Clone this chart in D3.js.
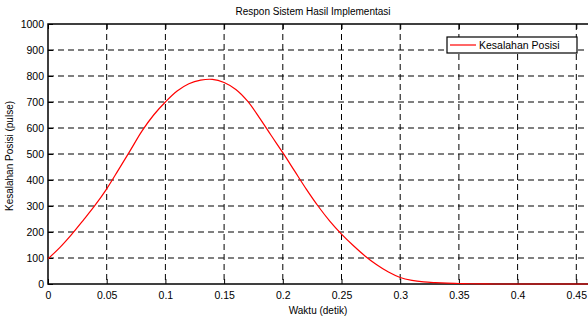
<!DOCTYPE html>
<html>
<head>
<meta charset="utf-8">
<script src="https://cdn.jsdelivr.net/npm/d3@7"></script>
<style>
  body { margin: 0; background: #fff; }
  svg { display: block; font-family: "Liberation Sans", Arial, sans-serif; }
  .grid line { stroke: #000; stroke-dasharray: 6,4; stroke-width: 1; }
</style>
</head>
<body>
<script>
// waktu (detik) vs kesalahan posisi (pulse)
var waktu = [0, 0.01, 0.02, 0.03, 0.04, 0.05, 0.06, 0.07, 0.08, 0.09, 0.10,
  0.11, 0.12, 0.13, 0.14, 0.15, 0.16, 0.17, 0.18, 0.19, 0.20,
  0.21, 0.22, 0.23, 0.24, 0.25, 0.26, 0.27, 0.28, 0.29, 0.30,
  0.31, 0.32, 0.33, 0.34, 0.35, 0.36, 0.38, 0.40, 0.45, 0.47];
var kesalahan = [97, 140, 190, 245, 302, 366, 439, 513, 588, 650, 700,
  742, 770, 784, 787, 775, 748, 703, 640, 572, 505,
  435, 365, 300, 242, 192, 148, 108, 74, 46, 25,
  14, 8, 5, 3, 2, 1, 0, 0, 0, 0];
var xTicks = [0, 0.05, 0.1, 0.15, 0.2, 0.25, 0.3, 0.35, 0.4, 0.45];
var yTicks = [0, 100, 200, 300, 400, 500, 600, 700, 800, 900, 1000];
var seriesName = 'Kesalahan Posisi';

var W = 588, H = 322;
var margin = {top: 24, left: 48, bottom: 38};
var plotH = H - margin.top - margin.bottom;

var x = d3.scaleLinear().domain([0, 0.05]).range([margin.left, margin.left + 58.7]);
var y = d3.scaleLinear().domain([0, 1000]).range([margin.top + plotH, margin.top]);
var xMax = x.invert(W + 20);

var svg = d3.select('body').append('svg')
  .attr('width', W).attr('height', H);

svg.append('clipPath').attr('id', 'clip')
  .append('rect')
  .attr('x', margin.left).attr('y', margin.top)
  .attr('width', W - margin.left).attr('height', plotH + 2);

// grid
var grid = svg.append('g').attr('class', 'grid');
grid.selectAll('.vg')
  .data(xTicks.slice(1))
  .enter().append('line')
  .attr('x1', function (d) { return x(d); })
  .attr('x2', function (d) { return x(d); })
  .attr('y1', y(1000)).attr('y2', y(0));
grid.selectAll('.hg')
  .data(yTicks.slice(1, -1))
  .enter().append('line')
  .attr('x1', x(0)).attr('x2', W)
  .attr('y1', function (d) { return y(d); })
  .attr('y2', function (d) { return y(d); });

// axes (ticks pointing inwards like matlab)
var xAxis = d3.axisBottom(x).tickValues(xTicks).tickSize(-5).tickPadding(8)
  .tickFormat(function (d) { return d3.format('~g')(d); });
var gx = svg.append('g')
  .attr('transform', 'translate(0,' + y(0) + ')')
  .call(xAxis);
gx.select('.domain').remove();

var xTop = d3.axisTop(x).tickValues(xTicks).tickSize(-5).tickFormat('');
var gxt = svg.append('g')
  .attr('transform', 'translate(0,' + y(1000) + ')')
  .call(xTop);
gxt.select('.domain').remove();

var yAxis = d3.axisLeft(y).tickValues(yTicks).tickSize(-5).tickPadding(4)
  .tickFormat(d3.format('d'));
var gy = svg.append('g')
  .attr('transform', 'translate(' + x(0) + ',0)')
  .call(yAxis);
gy.select('.domain').remove();

svg.selectAll('.tick text')
  .attr('fill', '#000')
  .style('font-size', '10.5px');
svg.selectAll('.tick line').attr('stroke', '#000');

// box
svg.append('rect')
  .attr('x', x(0)).attr('y', y(1000))
  .attr('width', x(xMax) - x(0)).attr('height', y(0) - y(1000))
  .attr('fill', 'none').attr('stroke', '#000').attr('stroke-width', 1.5);

// curve
var line = d3.line()
  .x(function (d) { return x(d[0]); })
  .y(function (d) { return y(d[1]); })
  .curve(d3.curveCatmullRom.alpha(0.5));

svg.append('path')
  .datum(d3.zip(waktu, kesalahan))
  .attr('clip-path', 'url(#clip)')
  .attr('fill', 'none')
  .attr('stroke', '#ff0000')
  .attr('stroke-width', 1.2)
  .attr('d', line);

// labels
svg.append('text')
  .attr('x', 313).attr('y', 15)
  .attr('text-anchor', 'middle')
  .style('font-size', '10px')
  .text('Respon Sistem Hasil Implementasi');

svg.append('text')
  .attr('x', 318).attr('y', 314)
  .attr('text-anchor', 'middle')
  .style('font-size', '10px')
  .text('Waktu (detik)');

svg.append('text')
  .attr('transform', 'translate(13,' + 156 + ') rotate(-90)')
  .attr('text-anchor', 'middle')
  .style('font-size', '10px')
  .text('Kesalahan Posisi (pulse)');

// legend
var lg = svg.append('g').attr('transform', 'translate(447,37)');
lg.append('rect')
  .attr('width', 130).attr('height', 16)
  .attr('fill', '#fff').attr('stroke', '#000').attr('stroke-width', 1.2);
lg.append('line')
  .attr('x1', 3).attr('x2', 29).attr('y1', 8).attr('y2', 8)
  .attr('stroke', '#ff0000').attr('stroke-width', 1.2);
lg.append('text')
  .attr('x', 32).attr('y', 12)
  .style('font-size', '10.5px')
  .text(seriesName);
</script>
</body>
</html>
